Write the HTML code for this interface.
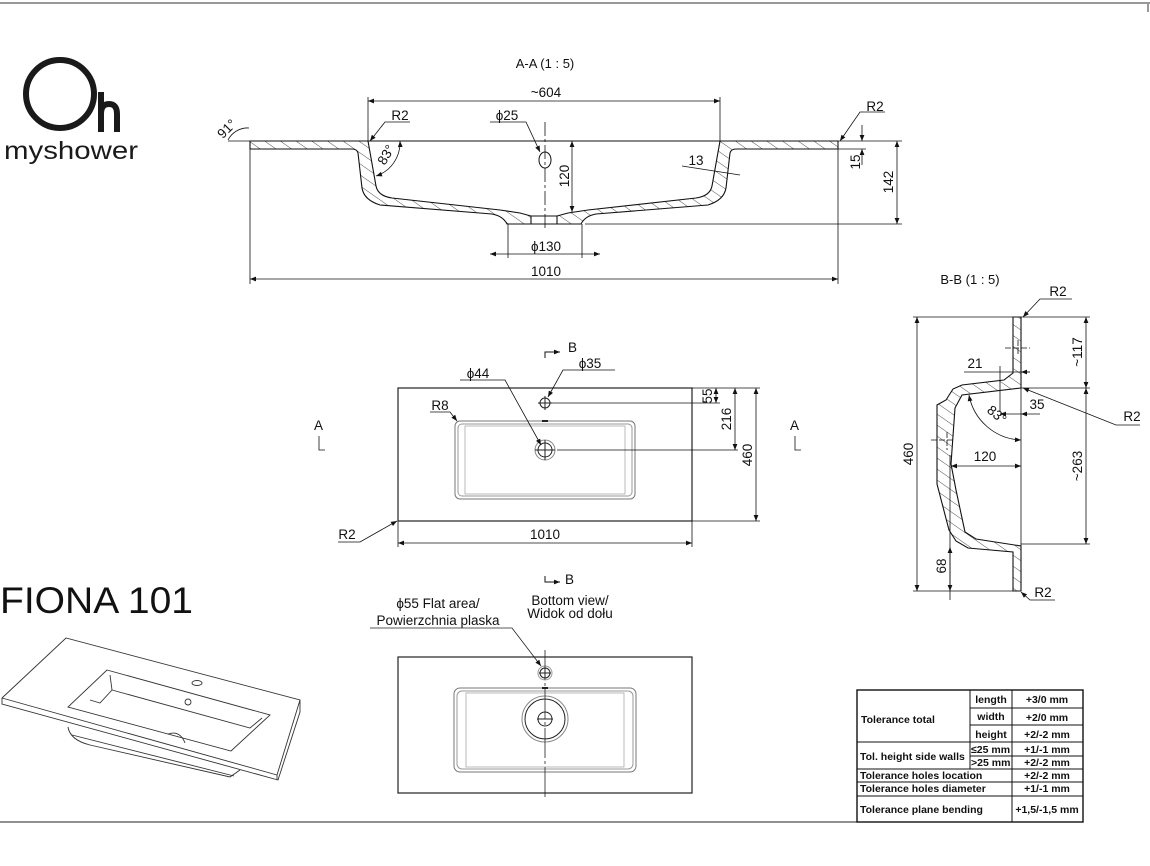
<!DOCTYPE html>
<html><head><meta charset="utf-8"><style>
html,body{margin:0;padding:0;background:#fff;}
svg{display:block;font-family:"Liberation Sans",sans-serif;}
.t{font-size:13.5px;fill:#111;}
.tb{font-size:10.5px;font-weight:bold;fill:#111;}
</style></head><body>
<svg width="1150" height="866" viewBox="0 0 1150 866" xmlns="http://www.w3.org/2000/svg">
<defs>
<pattern id="h" patternUnits="userSpaceOnUse" width="9" height="9" patternTransform="rotate(-55)">
<rect width="9" height="9" fill="#fff"/><line x1="0" y1="0" x2="0" y2="9" stroke="#222" stroke-width="0.8"/></pattern>
<marker id="a" viewBox="0 0 10 10" refX="10" refY="5" markerWidth="9" markerHeight="6" orient="auto-start-reverse" markerUnits="userSpaceOnUse"><path d="M0,1 L10,5 L0,9 z" fill="#111"/></marker>
</defs>
<line x1="0" y1="3" x2="1150" y2="3" stroke="#999" stroke-width="2"/>
<line x1="1148" y1="3" x2="1148" y2="12" stroke="#999" stroke-width="2"/>
<line x1="0" y1="822" x2="857" y2="822" stroke="#222" stroke-width="1"/>

<!-- logo -->
<circle cx="60" cy="94" r="34" fill="none" stroke="#1a1a1a" stroke-width="6"/>
<path d="M101,92 V132 M101,114 q0,-10 8,-10 q8,0 8,10 V132" fill="none" stroke="#1a1a1a" stroke-width="6"/>
<text x="4" y="159" textLength="134" lengthAdjust="spacingAndGlyphs" style="font-size:25px;fill:#1a1a1a;">myshower</text>

<!-- SECTION A-A -->
<text x="545" y="68" class="t" text-anchor="middle" style="font-size:13px">A-A  (1 : 5)</text>
<g stroke="#111" stroke-width="1.1">
<path fill="url(#h)" d="M250,141 L368,141 L376,186 Q378,196 392,198 L500,210 L520,213 L531,216 L531,224 L507,224 Q503,216 492,214 L380,205 Q364,200 362,188 L358,153 Q357,149 352,149 L250,149 Z"/>
<path fill="url(#h)" d="M838,141 L720,141 L712,186 Q710,196 696,198 L588,210 L568,213 L557,216 L557,224 L581,224 Q585,216 596,214 L708,205 Q724,200 726,188 L730,153 Q731,149 736,149 L838,149 Z"/>
<line x1="531" y1="216" x2="557" y2="216"/><line x1="531" y1="224" x2="557" y2="224"/>
<line x1="250" y1="141" x2="838" y2="141" fill="none"/>
</g>
<ellipse cx="545" cy="160" rx="6" ry="8" fill="none" stroke="#111"/>
<line x1="545" y1="122" x2="545" y2="230" stroke="#111" stroke-width="0.8" stroke-dasharray="14,3,3,3"/>
<g stroke="#111" stroke-width="0.8" fill="none">
<line x1="368" y1="97" x2="368" y2="141"/><line x1="720" y1="97" x2="720" y2="141"/>
<line x1="368" y1="101" x2="720" y2="101" marker-start="url(#a)" marker-end="url(#a)"/>
<line x1="250" y1="149" x2="250" y2="284"/><line x1="838" y1="149" x2="838" y2="284"/>
<line x1="250" y1="279" x2="838" y2="279" marker-start="url(#a)" marker-end="url(#a)"/>
<line x1="508" y1="224" x2="508" y2="258"/><line x1="582" y1="224" x2="582" y2="258"/>
<line x1="490" y1="254" x2="600" y2="254" marker-start="url(#a)" marker-end="url(#a)"/>
<line x1="572" y1="141" x2="572" y2="212" marker-start="url(#a)" marker-end="url(#a)"/>
<line x1="585" y1="224" x2="902" y2="224"/><line x1="838" y1="141" x2="902" y2="141"/>
<line x1="897" y1="141" x2="897" y2="224" marker-start="url(#a)" marker-end="url(#a)"/>
<line x1="838" y1="149" x2="866" y2="149"/>
<line x1="862" y1="125" x2="862" y2="141" marker-end="url(#a)"/><line x1="862" y1="165" x2="862" y2="149" marker-end="url(#a)"/>
<polyline points="410,122 385,122 370,141" marker-end="url(#a)"/>
<polyline points="885,112 860,112 840,141" marker-end="url(#a)"/>
<polyline points="490,122 526,122 540,152" marker-end="url(#a)"/>
<path d="M400,141 A35,35 0 0 1 376,176" marker-start="url(#a)" marker-end="url(#a)"/>
<path d="M250,141 L228,141 M249,128 A22,22 0 0 0 228,140" />
<line x1="682" y1="166" x2="740" y2="175"/>
</g>
<text x="546" y="97" class="t" text-anchor="middle">~604</text>
<text x="546" y="276" class="t" text-anchor="middle">1010</text>
<text x="546" y="251" class="t" text-anchor="middle">ϕ130</text>
<text x="507" y="120" class="t" text-anchor="middle">ϕ25</text>
<text x="400" y="120" class="t" text-anchor="middle">R2</text>
<text x="875" y="111" class="t" text-anchor="middle">R2</text>
<text x="696" y="165" class="t" text-anchor="middle">13</text>
<text class="t" transform="translate(569,176) rotate(-90)" text-anchor="middle">120</text>
<text class="t" transform="translate(893,182) rotate(-90)" text-anchor="middle">142</text>
<text class="t" transform="translate(860,162) rotate(-90)" text-anchor="middle">15</text>
<text class="t" transform="translate(390,157) rotate(-60)" text-anchor="middle">83°</text>
<text class="t" transform="translate(230,132) rotate(-45)" text-anchor="middle">91°</text>

<!-- PLAN VIEW -->
<g stroke="#222" fill="none">
<rect x="398" y="388" width="294" height="133" stroke-width="1.2"/>
<rect x="455" y="421" width="180" height="78" rx="5" stroke="#777"/>
<rect x="458" y="424" width="174" height="72" rx="4" stroke="#999"/>
<rect x="465" y="426" width="160" height="68" stroke="#aaa" stroke-width="0.8"/>
<circle cx="545" cy="403" r="5"/><path d="M538,403 H552 M545,396 V410"/>
<circle cx="545" cy="450" r="10" stroke="#888"/><circle cx="545" cy="450" r="7"/><path d="M535,450 H555 M545,440 V460"/>
<line x1="542" y1="421" x2="548" y2="421" stroke-width="2"/>
</g>
<g stroke="#111" stroke-width="0.8" fill="none">
<line x1="398" y1="521" x2="398" y2="547"/><line x1="692" y1="521" x2="692" y2="547"/>
<line x1="398" y1="543" x2="692" y2="543" marker-start="url(#a)" marker-end="url(#a)"/>
<line x1="692" y1="388" x2="760" y2="388"/><line x1="692" y1="521" x2="760" y2="521"/>
<line x1="756" y1="388" x2="756" y2="521" marker-start="url(#a)" marker-end="url(#a)"/>
<line x1="552" y1="403" x2="720" y2="403"/><line x1="557" y1="450" x2="738" y2="450"/>
<line x1="735" y1="388" x2="735" y2="450" marker-start="url(#a)" marker-end="url(#a)"/>
<line x1="716" y1="388" x2="716" y2="403" marker-start="url(#a)" marker-end="url(#a)"/>
<polyline points="460,380 505,380 541,445" marker-end="url(#a)"/>
<polyline points="615,370 563,370 548,397" marker-end="url(#a)"/>
<polyline points="430,412 450,412 457,421" marker-end="url(#a)"/>
<polyline points="338,542 360,542 397,521" marker-end="url(#a)"/>
<polyline points="545,358 545,352 560,352" marker-end="url(#a)" stroke-width="1"/>
<polyline points="545,576 545,582 560,582" marker-end="url(#a)" stroke-width="1"/>
<polyline points="319,436 319,450 325,450"/><polyline points="795,436 795,450 801,450"/>
</g>
<text x="568" y="352" class="t">B</text><text x="565" y="584" class="t">B</text>
<text x="314" y="430" class="t">A</text><text x="790" y="430" class="t">A</text>
<text x="545" y="539" class="t" text-anchor="middle">1010</text>
<text x="478" y="378" class="t" text-anchor="middle">ϕ44</text>
<text x="590" y="368" class="t" text-anchor="middle">ϕ35</text>
<text x="440" y="410" class="t" text-anchor="middle">R8</text>
<text x="347" y="539" class="t" text-anchor="middle">R2</text>
<text class="t" transform="translate(752,455) rotate(-90)" text-anchor="middle">460</text>
<text class="t" transform="translate(731,419) rotate(-90)" text-anchor="middle">216</text>
<text class="t" transform="translate(712,396) rotate(-90)" text-anchor="middle">55</text>

<!-- SECTION B-B -->
<text x="970" y="284" class="t" text-anchor="middle" style="font-size:13px">B-B  (1 : 5)</text>
<path fill="url(#h)" stroke="#111" stroke-width="1.1" d="M1013,317 L1021,317 L1021,388 L962,395 L955,408 L951,464 L956,490 L965,532 L976,539 L1021,546 L1021,591 L1013,591 L1013,552 L968,548 L956,541 L949,530 L937,484 L937,405 L946,400 L953,389 L962,385 L1004,380 L1013,373 Z"/>
<g stroke="#111" stroke-width="0.8" fill="none">
<line x1="1021" y1="388" x2="1021" y2="546"/>
<path d="M1005,348 H1030 M1018,340 V356 M931,440 H955 M947,432 V450" stroke-dasharray="6,2"/>
<line x1="913" y1="317" x2="1013" y2="317"/><line x1="913" y1="591" x2="1013" y2="591"/>
<line x1="917" y1="317" x2="917" y2="591" marker-start="url(#a)" marker-end="url(#a)"/>
<line x1="1021" y1="317" x2="1090" y2="317"/><line x1="1021" y1="388" x2="1090" y2="388"/><line x1="1021" y1="544" x2="1090" y2="544"/>
<line x1="1086" y1="317" x2="1086" y2="388" marker-start="url(#a)" marker-end="url(#a)"/>
<line x1="1086" y1="388" x2="1086" y2="544" marker-start="url(#a)" marker-end="url(#a)"/>
<line x1="964" y1="372" x2="1030" y2="372"/><line x1="1000" y1="366" x2="1000" y2="412"/>
<line x1="1030" y1="372" x2="1021" y2="372" marker-end="url(#a)"/>
<line x1="1040" y1="414" x2="1021" y2="414" marker-end="url(#a)"/><line x1="1021" y1="414" x2="1000" y2="414" marker-end="url(#a)"/>
<line x1="951" y1="466" x2="1021" y2="466" marker-start="url(#a)" marker-end="url(#a)"/>
<line x1="950" y1="455" x2="950" y2="600"/>
<line x1="950" y1="547" x2="950" y2="591" marker-start="url(#a)" marker-end="url(#a)"/>
<path d="M969,395 A55,55 0 0 0 1021,440" marker-start="url(#a)" marker-end="url(#a)"/>
<polyline points="1072,299 1040,299 1023,317" marker-end="url(#a)"/>
<polyline points="1140,425 1116,425 1023,388" marker-end="url(#a)"/>
<polyline points="1055,600 1030,600 1021,592" marker-end="url(#a)"/>
</g>
<text x="975" y="368" class="t" text-anchor="middle">21</text>
<text x="1037" y="409" class="t" text-anchor="middle">35</text>
<text x="985" y="461" class="t" text-anchor="middle">120</text>
<text x="1058" y="296" class="t" text-anchor="middle">R2</text>
<text x="1132" y="421" class="t" text-anchor="middle">R2</text>
<text x="1043" y="597" class="t" text-anchor="middle">R2</text>
<text class="t" transform="translate(994,418) rotate(40)" text-anchor="middle">83°</text>
<text class="t" transform="translate(913,454) rotate(-90)" text-anchor="middle">460</text>
<text class="t" transform="translate(1082,352) rotate(-90)" text-anchor="middle">~117</text>
<text class="t" transform="translate(1082,466) rotate(-90)" text-anchor="middle">~263</text>
<text class="t" transform="translate(946,566) rotate(-90)" text-anchor="middle">68</text>

<!-- FIONA + 3D -->
<text x="0" y="613" textLength="193" lengthAdjust="spacingAndGlyphs" style="font-size:37px;fill:#111;">FIONA 101</text>
<g stroke="#333" fill="none" stroke-width="0.9">
<path d="M2,698 L66,638 L300,700 L300,712 L278,780 L2,704 Z"/>
<path d="M2,698 L277,775 L300,700"/>
<path d="M277,775 L277,780"/>
<path d="M107,670 L270,715 L231,751 L68,707 Z"/>
<path d="M110,675 L112,690 L100,703 L90,700 M112,690 L250,728 L262,718"/>
<path d="M68,727 Q70,740 90,745 L230,777 L240,770"/>
<path d="M72,735 L234,776"/>
<ellipse cx="197" cy="683" rx="5" ry="2.5"/><ellipse cx="188" cy="702" rx="3" ry="3"/>
<path d="M168,734 Q180,730 185,743"/>
</g>

<!-- BOTTOM VIEW -->
<text x="438" y="608" class="t" text-anchor="middle">ϕ55 Flat area/</text>
<text x="438" y="625" class="t" text-anchor="middle">Powierzchnia plaska</text>
<text x="570" y="605" class="t" text-anchor="middle">Bottom view/</text>
<text x="570" y="618" class="t" text-anchor="middle">Widok od dołu</text>
<g stroke="#222" fill="none">
<rect x="398" y="657" width="294" height="136" stroke-width="1.2"/>
<rect x="454" y="688" width="182" height="84" rx="6" stroke="#777"/>
<rect x="457" y="691" width="176" height="78" rx="5" stroke="#999"/>
<rect x="466" y="693" width="158" height="74" stroke="#aaa" stroke-width="0.8"/>
<circle cx="545" cy="673" r="7" stroke="#999"/><circle cx="545" cy="673" r="5"/><path d="M539,673 H551 M545,667 V679"/>
<circle cx="545" cy="719" r="23" stroke="#888"/><circle cx="545" cy="719" r="20"/><circle cx="545" cy="719" r="7"/>
<path d="M537,719 H553"/>
<line x1="545" y1="650" x2="545" y2="800" stroke-width="0.8" stroke-dasharray="30,3,3,3"/>
<line x1="542" y1="688" x2="548" y2="688" stroke-width="2"/>
<polyline points="370,628 512,628 541,666" stroke-width="0.8" marker-end="url(#a)"/>
</g>

<!-- TABLE -->
<g stroke="#111" stroke-width="1" fill="none">
<rect x="857" y="690" width="226" height="132" stroke-width="1.4"/>
<line x1="970" y1="690" x2="970" y2="769"/><line x1="1012" y1="690" x2="1012" y2="822"/>
<line x1="970" y1="708" x2="1083" y2="708"/><line x1="970" y1="725" x2="1083" y2="725"/>
<line x1="857" y1="742" x2="1083" y2="742"/><line x1="970" y1="756" x2="1083" y2="756"/>
<line x1="857" y1="769" x2="1083" y2="769"/><line x1="857" y1="782" x2="1083" y2="782"/>
<line x1="857" y1="796" x2="1083" y2="796"/>
</g>
<g class="tb">
<text x="861" y="723" class="tb">Tolerance total</text>
<text x="991" y="703" class="tb" text-anchor="middle">length</text>
<text x="991" y="720" class="tb" text-anchor="middle">width</text>
<text x="991" y="738" class="tb" text-anchor="middle">height</text>
<text x="1047" y="703" class="tb" text-anchor="middle">+3/0 mm</text>
<text x="1047" y="721" class="tb" text-anchor="middle">+2/0 mm</text>
<text x="1047" y="738" class="tb" text-anchor="middle">+2/-2 mm</text>
<text x="860" y="760" class="tb">Tol. height side walls</text>
<text x="971" y="753" class="tb">≤25 mm</text>
<text x="971" y="766" class="tb">&gt;25 mm</text>
<text x="1047" y="753" class="tb" text-anchor="middle">+1/-1 mm</text>
<text x="1047" y="766" class="tb" text-anchor="middle">+2/-2 mm</text>
<text x="860" y="779" class="tb">Tolerance holes location</text>
<text x="1047" y="779" class="tb" text-anchor="middle">+2/-2 mm</text>
<text x="860" y="792" class="tb">Tolerance holes diameter</text>
<text x="1047" y="792" class="tb" text-anchor="middle">+1/-1 mm</text>
<text x="860" y="813" class="tb">Tolerance plane bending</text>
<text x="1047" y="813" class="tb" text-anchor="middle">+1,5/-1,5 mm</text>
</g>
</svg>
</body></html>
